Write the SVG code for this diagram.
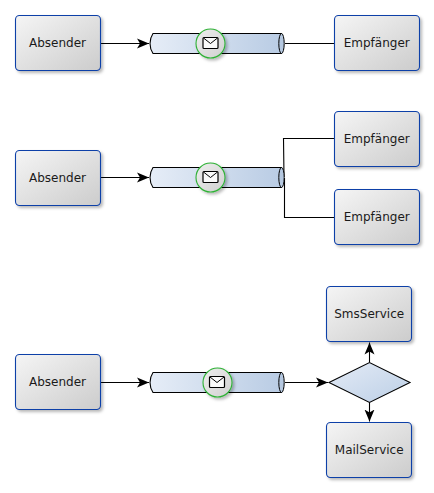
<svg xmlns="http://www.w3.org/2000/svg" width="434" height="493" viewBox="0 0 434 493">
<style>
.box{fill:url(#gb);stroke:#0f41a8;stroke-width:1.1;filter:url(#sh)}
.t{font-family:"DejaVu Sans",sans-serif;font-size:12px;fill:#1a1a1a;text-anchor:middle}
.c{fill:none;stroke:#000;stroke-width:1.1}
.pipe{fill:url(#gp);stroke:#000;stroke-width:1.1}
.cap{fill:#b5c8e0;stroke:#000;stroke-width:1}
.ev{fill:url(#ge);stroke:#2eb135;stroke-width:1.1;filter:url(#sh)}
.env{fill:#fafafa;stroke:#000;stroke-width:1.2}
.env2{fill:none;stroke:#000;stroke-width:1}
</style>
<defs>
<linearGradient id="gb" x1="0" y1="0" x2="1" y2="1"><stop offset="0" stop-color="#f5f5f5"/><stop offset="1" stop-color="#cccccc"/></linearGradient>
<linearGradient id="ge" x1="0" y1="0" x2="1" y2="1"><stop offset="0" stop-color="#eeeeee"/><stop offset="1" stop-color="#d0d0d0"/></linearGradient>
<linearGradient id="gp" x1="0" y1="0" x2="1" y2="0"><stop offset="0" stop-color="#e6edf7"/><stop offset="1" stop-color="#b9cce4"/></linearGradient>
<linearGradient id="gd" x1="0" y1="0" x2="1" y2="1"><stop offset="0" stop-color="#e4ebf6"/><stop offset="1" stop-color="#bccfe6"/></linearGradient>
<filter id="sh" x="-20%" y="-20%" width="145%" height="145%"><feDropShadow dx="2" dy="2" stdDeviation="1.8" flood-color="#000" flood-opacity="0.28"/></filter>
<marker id="a" markerWidth="13" markerHeight="12" refX="12" refY="6" orient="auto" markerUnits="userSpaceOnUse"><path d="M0 1L12 6L0 11L3 6Z" fill="#000"/></marker>
<g id="mail"><rect class="env" x="-7.500" y="-5.500" width="15" height="11" rx="1"/><path class="env2" d="M-7 -5L0 0.500L7 -5"/></g>
<g id="pipeS"><path class="pipe" d="M3 0H131.500V20H3C-1 14 -1 6 3 0Z"/><ellipse class="cap" cx="131.500" cy="10" rx="2.700" ry="10"/></g>
</defs>
<g id="connectors">
<path class="c" marker-end="url(#a)" d="M100 43.500H149"/>
<path class="c" d="M285 43.500H334"/>
<path class="c" marker-end="url(#a)" d="M100 177.500H149"/>
<path class="c" d="M334 138.500H283.500L284 177"/>
<path class="c" d="M334 217.500H284.500V178"/>
<path class="c" marker-end="url(#a)" d="M100 382.500H149"/>
<path class="c" marker-end="url(#a)" d="M285 382.500H328"/>
<path class="c" marker-end="url(#a)" d="M369.500 362V342.500"/>
<path class="c" marker-end="url(#a)" d="M369.500 402V421.500"/>
</g>
<g id="sender1"><rect class="box" x="15.500" y="15.500" width="85" height="55" rx="4"/><text class="t" x="57.500" y="47">Absender</text></g>
<g id="channel1"><use href="#pipeS" x="150" y="33.500"/><circle class="ev" cx="210.500" cy="43.500" r="14.500"/><use href="#mail" x="210.500" y="43"/></g>
<g id="receiver1"><rect class="box" x="334.500" y="15.500" width="85" height="55" rx="4"/><text class="t" x="376.700" y="47">Empfänger</text></g>
<g id="sender2"><rect class="box" x="15.500" y="150.500" width="85" height="55" rx="4"/><text class="t" x="57.500" y="182">Absender</text></g>
<g id="channel2"><use href="#pipeS" x="150" y="167.500"/><circle class="ev" cx="210.500" cy="177.500" r="14.500"/><use href="#mail" x="210.500" y="177"/></g>
<g id="receiver2a"><rect class="box" x="334.500" y="111.500" width="85" height="55" rx="4"/><text class="t" x="376.700" y="143">Empfänger</text></g>
<g id="receiver2b"><rect class="box" x="334.500" y="189.500" width="85" height="55" rx="4"/><text class="t" x="376.700" y="221">Empfänger</text></g>
<g id="sender3"><rect class="box" x="15.500" y="354.500" width="85" height="55" rx="4"/><text class="t" x="57.500" y="386">Absender</text></g>
<g id="channel3"><use href="#pipeS" x="150" y="372.500"/><circle class="ev" cx="217.500" cy="382.500" r="14.500"/><use href="#mail" x="217" y="382"/></g>
<g id="router"><path d="M329 382.500L369.500 362.500L410 382.500L369.500 402.500Z" fill="url(#gd)" stroke="#000" stroke-width="1.100"/></g>
<g id="sms"><rect class="box" x="326.500" y="286.500" width="85" height="55" rx="4"/><text class="t" x="369.200" y="318">SmsService</text></g>
<g id="mailservice"><rect class="box" x="326.500" y="422.500" width="85" height="55" rx="4"/><text class="t" x="369.200" y="454">MailService</text></g>
</svg>
